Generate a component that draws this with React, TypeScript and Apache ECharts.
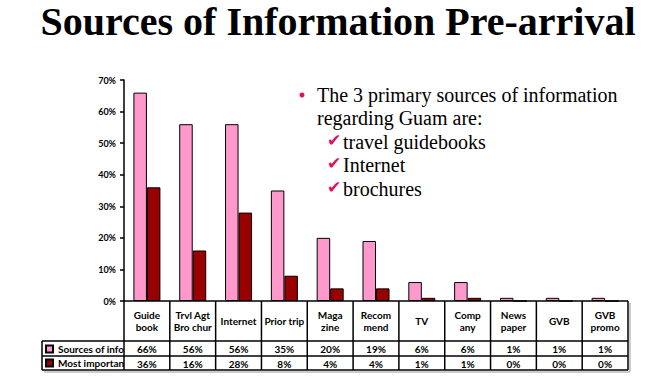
import React, { useEffect, useRef } from "react";
import * as echarts from "echarts";

const categories = [
  "Guide\nbook",
  "Trvl Agt\nBro chur",
  "Internet",
  "Prior trip",
  "Maga\nzine",
  "Recom\nmend",
  "TV",
  "Comp\nany",
  "News\npaper",
  "GVB",
  "GVB\npromo",
];
const seriesNames = ["Sources of information", "Most important source"];
const sourcesValues = [66, 56, 56, 35, 20, 19, 6, 6, 1, 1, 1];
const importantValues = [36, 16, 28, 8, 4, 4, 1, 1, 0, 0, 0];
const yTicks = [0, 10, 20, 30, 40, 50, 60, 70];
const bulletLines = ["The 3 primary sources of information", "regarding Guam are:"];
const checkLines = ["travel guidebooks", "Internet", "brochures"];

const PINK = "#FF99CC";
const DARK = "#990000";
const ACCENT = "#E0115F";
const W = 661;
const H = 381;
const GL = 124;
const GR = 33;
const GT = 80;
const GB = 80;
const LABEL_FONT = "Lato, 'Open Sans', sans-serif";

export default function App() {
  const ref = useRef<HTMLDivElement>(null);
  useEffect(() => {
    if (!ref.current) return;
    const chart = echarts.init(ref.current, undefined, { renderer: "svg" });
    const plotW = W - GL - GR;
    const axisY = H - GB;
    const cellW = plotW / categories.length;
    const headerBottom = axisY + 40;
    const row1Bottom = headerBottom + 15;
    const row2Bottom = row1Bottom + 14;
    const tableLeft = 42;
    const lineStyle = { stroke: "#000", lineWidth: 1.5 };
    const graphics: any[] = [];
    for (let i = 0; i <= categories.length; i++) {
      const x = GL + i * cellW;
      graphics.push({
        type: "line",
        shape: { x1: x, y1: axisY, x2: x, y2: row2Bottom },
        style: lineStyle,
      });
    }
    graphics.push({
      type: "line",
      shape: { x1: tableLeft, y1: headerBottom, x2: tableLeft, y2: row2Bottom },
      style: lineStyle,
    });
    graphics.push({
      type: "line",
      shape: { x1: GL, y1: axisY, x2: GL + plotW, y2: axisY },
      style: lineStyle,
    });
    [headerBottom, row1Bottom, row2Bottom].forEach((y) =>
      graphics.push({
        type: "line",
        shape: { x1: tableLeft, y1: y, x2: GL + plotW, y2: y },
        style: lineStyle,
      })
    );
    graphics.push({
      type: "line",
      shape: { x1: tableLeft + 2, y1: row2Bottom + 2, x2: GL + plotW + 2, y2: row2Bottom + 2 },
      style: { stroke: "#bbb", lineWidth: 1.5 },
    });
    graphics.push({
      type: "line",
      shape: { x1: GL + plotW + 2, y1: axisY + 2, x2: GL + plotW + 2, y2: row2Bottom + 2 },
      style: { stroke: "#bbb", lineWidth: 1.5 },
    });
    [sourcesValues, importantValues].forEach((vals, r) => {
      const top = r === 0 ? headerBottom : row1Bottom;
      const bottom = r === 0 ? row1Bottom : row2Bottom;
      vals.forEach((v, i) => {
        graphics.push({
          type: "text",
          x: GL + (i + 0.5) * cellW,
          y: (top + bottom) / 2 + 0.5,
          style: {
            text: v + "%",
            fill: "#000",
            font: `bold 10px ${LABEL_FONT}`,
            align: "center",
            verticalAlign: "middle",
          },
        });
      });
    });
    graphics.push({
      type: "circle",
      shape: { cx: 302, cy: 95, r: 2.5 },
      style: { fill: ACCENT },
    });
    bulletLines.forEach((t, i) => {
      graphics.push({
        type: "text",
        x: 317,
        y: 95 + i * 23,
        style: {
          text: t,
          fill: "#000",
          font: "20px 'Liberation Serif', 'Times New Roman', serif",
          verticalAlign: "middle",
        },
      });
    });
    checkLines.forEach((t, i) => {
      const y = 141.5 + i * 23.7;
      graphics.push({
        type: "text",
        x: 327,
        y: y - 2,
        style: {
          text: "✔",
          fill: ACCENT,
          font: "17px 'DejaVu Sans', sans-serif",
          verticalAlign: "middle",
        },
      });
      graphics.push({
        type: "text",
        x: 343,
        y: y,
        style: {
          text: t,
          fill: "#000",
          font: "20px 'Liberation Serif', 'Times New Roman', serif",
          verticalAlign: "middle",
        },
      });
    });

    chart.setOption({
      animation: false,
      backgroundColor: "#fff",
      title: {
        text: "Sources of Information Pre-arrival",
        left: 338,
        textAlign: "center",
        top: 0,
        padding: 0,
        textStyle: {
          fontFamily: "'Liberation Serif', 'Times New Roman', serif",
          fontWeight: "bold",
          fontSize: 40,
          lineHeight: 42,
          color: "#000",
        },
      },
      legend: {
        orient: "vertical",
        left: 45,
        top: 343,
        padding: 0,
        itemWidth: 7,
        itemHeight: 7,
        itemGap: 2,
        icon: "rect",
        data: seriesNames,
        textStyle: {
          fontFamily: LABEL_FONT,
          fontWeight: "bold",
          fontSize: 10,
          lineHeight: 12,
          color: "#000",
          width: 68,
          overflow: "truncate",
          ellipsis: "",
        },
      },
      grid: { left: GL, right: GR, top: GT, bottom: GB },
      xAxis: {
        type: "category",
        data: categories,
        axisLine: { show: false },
        axisTick: { show: false },
        axisLabel: {
          interval: 0,
          margin: 20,
          verticalAlign: "middle",
          color: "#000",
          fontFamily: LABEL_FONT,
          fontWeight: "bold",
          fontSize: 10,
          lineHeight: 12,
          width: 44,
          overflow: "truncate",
          ellipsis: "",
        },
      },
      yAxis: {
        type: "value",
        min: yTicks[0],
        max: yTicks[yTicks.length - 1],
        interval: 10,
        splitLine: { show: false },
        axisLine: { show: true, lineStyle: { color: "#000", width: 1.5 } },
        axisTick: { show: true, length: 4, lineStyle: { color: "#000", width: 1.5 } },
        axisLabel: {
          formatter: "{value}%",
          color: "#000",
          fontFamily: LABEL_FONT,
          fontWeight: "bold",
          fontSize: 9,
          margin: 8,
        },
      },
      series: [
        {
          name: seriesNames[0],
          type: "bar",
          data: sourcesValues,
          barWidth: 13.5,
          barGap: "0%",
          itemStyle: { color: PINK, borderColor: "#000", borderWidth: 1 },
        },
        {
          name: seriesNames[1],
          type: "bar",
          data: importantValues,
          barWidth: 13.5,
          barGap: "0%",
          itemStyle: { color: DARK, borderColor: "#000", borderWidth: 1 },
        },
      ],
      graphic: graphics,
    });
    return () => chart.dispose();
  }, []);
  return (
    <div
      ref={ref}
      style={{ position: "fixed", left: 0, top: 0, width: W, height: H }}
    />
  );
}
